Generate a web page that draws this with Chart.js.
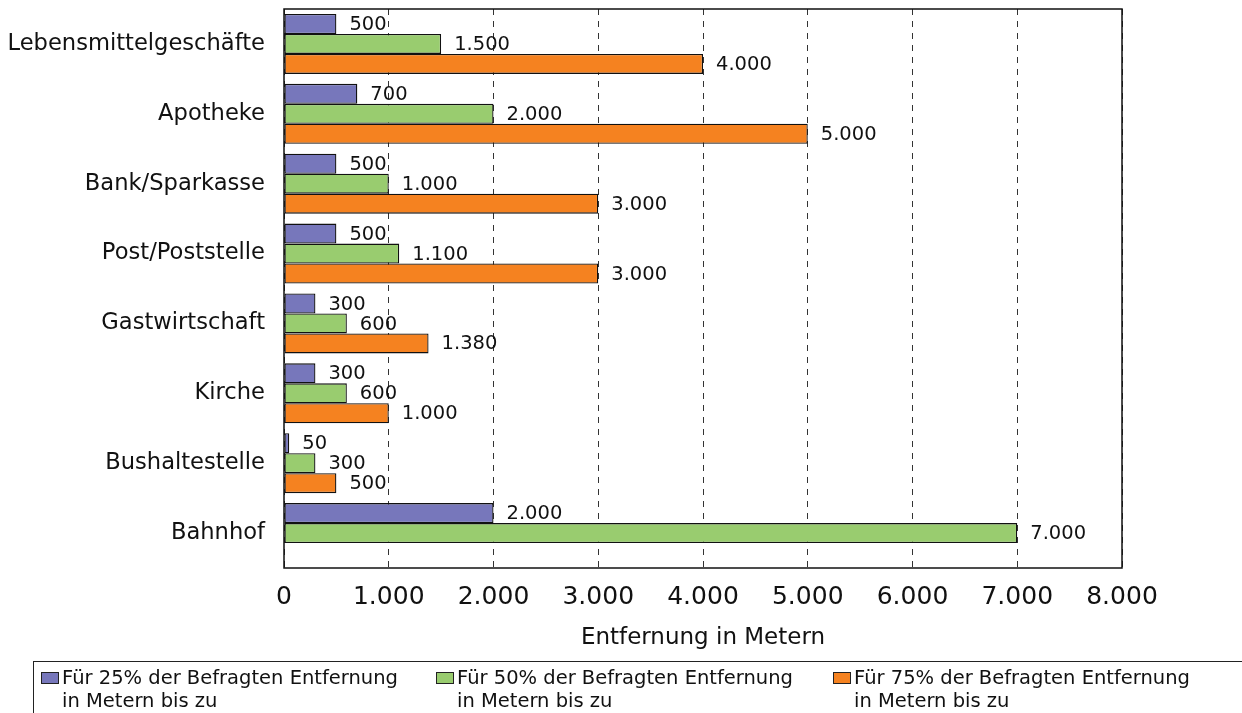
<!DOCTYPE html>
<html>
<head>
<meta charset="utf-8">
<script src="https://cdn.jsdelivr.net/npm/chart.js@4"></script>
<style>
  html, body { margin: 0; padding: 0; background: #fff; }
  #wrap { position: relative; width: 1242px; height: 713px; overflow: hidden; }
  #legend {
    position: absolute; left: 33px; top: 661px; width: 1300px; height: 80px;
    border: 1.5px solid #222; box-sizing: border-box;
    font-family: "DejaVu Sans", Verdana, sans-serif; font-size: 19.5px; color: #111;
  }
  .item { position: absolute; top: 4px; line-height: 23px; padding-left: 21px; }
  .swatch { position: absolute; left: 0; top: 6px; width: 16px; height: 10px; border: 1px solid #222; }
</style>
</head>
<body>
<div id="wrap">
  <canvas id="chart" width="1242" height="713"></canvas>
  <div id="legend"></div>
</div>
<script>
const categories = ["Lebensmittelgeschäfte", "Apotheke", "Bank/Sparkasse", "Post/Poststelle",
  "Gastwirtschaft", "Kirche", "Bushaltestelle", "Bahnhof"];
const p25 = [500, 700, 500, 500, 300, 300, 50, 2000];
const p50 = [1500, 2000, 1000, 1100, 600, 600, 300, 7000];
const p75 = [4000, 5000, 3000, 3000, 1380, 1000, 500, null];
const seriesLabels = [
  ["Für 25% der Befragten Entfernung", "in Metern bis zu"],
  ["Für 50% der Befragten Entfernung", "in Metern bis zu"],
  ["Für 75% der Befragten Entfernung", "in Metern bis zu"]
];
const seriesColors = ["#7777bb", "#99cc6f", "#f58220"];
const legendLeft = [7, 402, 799];

const FONT = "'DejaVu Sans', Verdana, sans-serif";

function fmt(v) {
  return String(v).replace(/\B(?=(\d{3})+(?!\d))/g, ".");
}

// value labels right of each bar
const valueLabels = {
  id: "valueLabels",
  afterDatasetsDraw(chart) {
    const ctx = chart.ctx;
    ctx.save();
    ctx.font = "19.5px " + FONT;
    ctx.fillStyle = "#111";
    ctx.textAlign = "left";
    ctx.textBaseline = "middle";
    chart.data.datasets.forEach((ds, i) => {
      chart.getDatasetMeta(i).data.forEach((bar, j) => {
        const v = ds.data[j];
        if (v == null) return;
        ctx.fillText(fmt(v), bar.x + 13, bar.y + 1);
      });
    });
    ctx.restore();
  }
};

// plot frame
const frame = {
  id: "frame",
  afterDraw(chart) {
    const { left, top, right, bottom } = chart.chartArea;
    const ctx = chart.ctx;
    ctx.save();
    ctx.strokeStyle = "#111";
    ctx.lineWidth = 1.5;
    ctx.strokeRect(left, top, right - left, bottom - top);
    ctx.restore();
  }
};

const datasets = [p25, p50, p75].map((d, i) => ({
  label: seriesLabels[i].join(" "),
  data: d,
  backgroundColor: seriesColors[i],
  borderColor: "#111",
  borderWidth: 1.3,
  borderSkipped: false,
  categoryPercentage: 0.857,
  barPercentage: 1.0
}));

new Chart(document.getElementById("chart"), {
  type: "bar",
  data: { labels: categories, datasets: datasets },
  plugins: [valueLabels, frame],
  options: {
    indexAxis: "y",
    responsive: false,
    animation: false,
    layout: { padding: { top: 9, right: 120, left: 0, bottom: 0 } },
    plugins: { legend: { display: false }, tooltip: { enabled: false } },
    scales: {
      x: {
        min: 0,
        max: 8000,
        afterFit(scale) { scale.height = 145; },
        ticks: {
          stepSize: 1000,
          padding: 14,
          color: "#111",
          font: { family: FONT, size: 25 },
          maxRotation: 0,
          callback: (v) => fmt(v)
        },
        grid: { color: "#333", lineWidth: 1, drawTicks: false },
        border: { display: false, dash: [6, 6] },
        title: {
          display: true,
          text: "Entfernung in Metern",
          color: "#111",
          font: { family: FONT, size: 23 },
          padding: { top: 0, bottom: 61 }
        }
      },
      y: {
        afterFit(scale) {
          scale.width = 284;
          scale.paddingTop = 0;
          scale.paddingBottom = 0;
        },
        ticks: {
          padding: 19,
          color: "#111",
          font: { family: FONT, size: 22.6 }
        },
        grid: { display: false, drawTicks: false },
        border: { display: false }
      }
    }
  }
});

const legendEl = document.getElementById("legend");
seriesLabels.forEach((lines, i) => {
  const item = document.createElement("div");
  item.className = "item";
  item.style.left = legendLeft[i] + "px";
  const sw = document.createElement("span");
  sw.className = "swatch";
  sw.style.background = seriesColors[i];
  item.appendChild(sw);
  lines.forEach((t, k) => {
    if (k) item.appendChild(document.createElement("br"));
    item.appendChild(document.createTextNode(t));
  });
  legendEl.appendChild(item);
});
</script>
</body>
</html>
